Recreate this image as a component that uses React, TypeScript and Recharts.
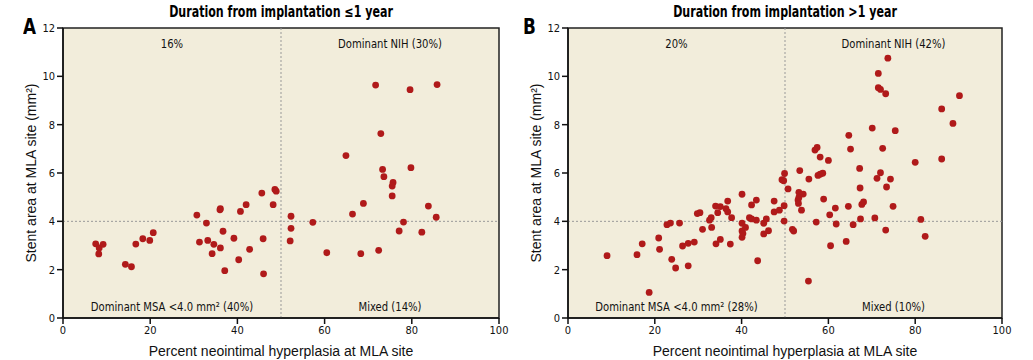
import { ReferenceArea, ReferenceDot, ReferenceLine, Scatter, ScatterChart, XAxis, YAxis } from "recharts";

const xTicks = [0, 20, 40, 60, 80, 100];
const yTicks = [0, 2, 4, 6, 8, 10, 12];

const earlyPoints: [number, number][] = [
  [7.5, 3.07], [8.3, 2.9], [8.2, 2.65], [9.2, 3.05], [14.3, 2.22], [15.7, 2.12], [16.7, 3.06],
  [18.3, 3.28], [19.9, 3.21], [20.7, 3.53], [30.7, 4.26], [31.3, 3.14], [32.9, 3.93], [33.2, 3.21],
  [34.6, 3.05], [34.2, 2.66], [36.1, 4.52], [36.0, 4.48], [36.7, 3.59], [36.1, 2.9], [37.1, 1.96],
  [39.2, 3.3], [40.3, 2.41], [40.7, 4.41], [42.0, 4.69], [42.8, 2.84], [45.6, 5.17], [45.9, 3.28],
  [46.0, 1.83], [48.2, 4.69], [48.6, 5.32], [48.9, 5.25], [52.3, 4.21], [52.3, 3.71], [52.1, 3.19],
  [57.3, 3.96], [60.5, 2.7], [64.9, 6.72], [66.4, 4.3], [68.9, 4.74], [68.3, 2.66], [71.7, 9.64],
  [72.4, 2.8], [72.9, 7.63], [73.3, 6.15], [73.6, 5.85], [75.7, 5.61], [75.5, 5.46], [75.5, 5.05],
  [77.1, 3.6], [78.1, 3.97], [79.6, 9.45], [79.8, 6.22], [82.3, 3.55], [83.8, 4.63], [85.6, 4.17],
  [85.8, 9.66],
];

const latePoints: [number, number][] = [
  [9.0, 2.58], [15.9, 2.62], [18.7, 1.06], [17.1, 3.07], [20.9, 3.31], [21.1, 2.84], [22.8, 3.86],
  [23.6, 3.93], [23.9, 2.43], [24.8, 2.07], [25.7, 3.93], [26.4, 2.98], [27.7, 3.09], [27.7, 2.16],
  [29.1, 3.14], [29.8, 4.32], [30.4, 4.36], [31.0, 3.67], [32.6, 4.05], [33.0, 4.15], [33.1, 3.75],
  [34.0, 4.63], [34.1, 3.07], [34.5, 4.36], [35.1, 4.61], [35.1, 3.25], [36.4, 4.52], [36.8, 4.84],
  [36.8, 4.39], [37.4, 3.06], [37.7, 4.15], [40.1, 5.12], [40.1, 3.92], [40.1, 3.6], [40.1, 3.34],
  [40.9, 3.75], [40.3, 3.5], [41.8, 4.15], [42.3, 4.1], [42.3, 4.68], [43.4, 4.88], [43.4, 4.05],
  [43.7, 2.37], [45.1, 3.92], [45.1, 3.48], [45.7, 4.1], [46.2, 3.61], [47.5, 4.84], [47.5, 4.39],
  [49.3, 5.72], [49.7, 5.68], [49.9, 5.98], [48.7, 4.46], [49.8, 4.65], [49.8, 4.01],
  [50.7, 5.34], [51.7, 3.67], [52.0, 3.6], [53.2, 5.2], [54.2, 5.13], [53.0, 4.88], [53.2, 4.99],
  [53.1, 4.74], [53.8, 4.46], [53.4, 6.1], [55.5, 5.75], [55.4, 1.53], [56.9, 6.95], [57.4, 7.06],
  [58.1, 6.66], [57.6, 5.9], [58.1, 5.95], [58.7, 5.99], [58.9, 4.92], [57.2, 3.97], [60.0, 6.52],
  [60.3, 4.27], [60.5, 2.99], [61.6, 4.55], [61.8, 3.89], [64.7, 7.56], [65.1, 6.99], [64.6, 4.62],
  [65.7, 3.86], [64.1, 3.17], [67.2, 6.19], [67.3, 5.38], [67.7, 4.7], [68.1, 4.8], [67.4, 4.1],
  [70.1, 7.86], [71.5, 10.12], [71.5, 9.53], [72.0, 9.46], [73.2, 9.28], [73.7, 10.75], [72.5, 7.02],
  [72.0, 6.01], [71.2, 5.78], [70.7, 4.14], [74.3, 5.75], [73.4, 5.42], [74.9, 4.62], [73.2, 3.64],
  [75.4, 7.75], [80.0, 6.44], [81.3, 4.08], [82.3, 3.38], [86.1, 8.65], [86.1, 6.58], [88.7, 8.05],
  [90.2, 9.2],
];

// top-left, top-right, bottom-left, bottom-right
const earlyLabels = ["16%", "Dominant NIH (30%)", "Dominant MSA <4.0 mm² (40%)", "Mixed (14%)"];
const lateLabels = ["20%", "Dominant NIH (42%)", "Dominant MSA <4.0 mm² (28%)", "Mixed (10%)"];

const narrow = "'DejaVu Sans Condensed', sans-serif";
const sans = "'Liberation Sans', Arial, sans-serif";
const dotColor = "#b01a1a";

type PanelProps = {
  letter: string;
  title: string;
  points: [number, number][];
  labels: string[];
  left: number;
  width: number;
  yAxisWidth: number;
  rightMargin: number;
  yLabelDx: number;
  letterLeft: number;
};

function quadLabel(text: string) {
  return (props: any) => {
    const vb = props.viewBox || {};
    const cx = (vb.x ?? 0) + (vb.width ?? 0) / 2;
    const cy = (vb.y ?? 0) + (vb.height ?? 0) / 2;
    return (
      <text
        transform={`translate(${cx},${cy}) scale(0.86,1)`}
        textAnchor="middle"
        dominantBaseline="central"
        fill="#111"
        fontSize={13}
        fontFamily={narrow}
      >
        {text}
      </text>
    );
  };
}

function Panel({ letter, title, points, labels, left, width, yAxisWidth, rightMargin, yLabelDx, letterLeft }: PanelProps) {
  const data = points.map(([x, y]) => ({ x, y }));
  const plotLeft = left + yAxisWidth;
  const plotWidth = width - yAxisWidth - rightMargin;
  const spots = [
    { x: 25, y: 11.33 },
    { x: 75, y: 11.33 },
    { x: 25, y: 0.45 },
    { x: 75, y: 0.45 },
  ];
  return (
    <>
      <div
        style={{
          position: "absolute",
          left: plotLeft,
          width: plotWidth,
          top: 3,
          textAlign: "center",
          fontFamily: narrow,
          fontWeight: "bold",
          fontSize: 15,
          transform: "scaleX(0.82)",
          whiteSpace: "nowrap",
        }}
      >
        {title}
      </div>
      <div
        style={{
          position: "absolute",
          left: letterLeft,
          top: 14,
          fontFamily: narrow,
          fontWeight: "bold",
          fontSize: 22,
          transform: "scaleX(0.85)",
          transformOrigin: "left top",
        }}
      >
        {letter}
      </div>
      <div style={{ position: "absolute", left, top: 0 }}>
        <ScatterChart width={width} height={360} margin={{ top: 28, right: rightMargin, bottom: 0, left: 0 }}>
          <ReferenceArea
            x1={0}
            x2={100}
            y1={0}
            y2={12}
            fill="#f2eddb"
            fillOpacity={1}
            stroke="#222"
            strokeWidth={1.5}
          />
          <ReferenceLine x={50} stroke="#999" strokeDasharray="2 2" />
          <ReferenceLine y={4} stroke="#999" strokeDasharray="2 2" />
          <XAxis
            type="number"
            dataKey="x"
            domain={[0, 100]}
            ticks={xTicks}
            height={42}
            tickSize={6}
            stroke="#111"
            strokeWidth={1.5}
            tick={{ fill: "#111", fontSize: 11, fontFamily: narrow }}
            label={{
              value: "Percent neointimal hyperplasia at MLA site",
              position: "insideBottom",
              offset: 4,
              fill: "#111",
              fontSize: 14,
              fontFamily: sans,
            }}
          />
          <YAxis
            type="number"
            dataKey="y"
            domain={[0, 12]}
            ticks={yTicks}
            width={yAxisWidth}
            tickSize={6}
            stroke="#111"
            strokeWidth={1.5}
            tick={{ fill: "#111", fontSize: 11, fontFamily: narrow }}
            label={{
              value: "Stent area at MLA site (mm²)",
              angle: -90,
              position: "center",
              dx: yLabelDx,
              fill: "#111",
              fontSize: 14,
              fontFamily: sans,
            }}
          />
          {labels.map((text, i) => (
            <ReferenceDot
              key={text}
              x={spots[i].x}
              y={spots[i].y}
              r={0}
              fill="none"
              stroke="none"
              label={{ content: quadLabel(text) }}
            />
          ))}
          <Scatter
            data={data}
            isAnimationActive={false}
            shape={(p: any) => <circle cx={p.cx} cy={p.cy} r={3.4} fill={dotColor} />}
          />
        </ScatterChart>
      </div>
    </>
  );
}

export default function App() {
  return (
    <div style={{ position: "absolute", left: 0, top: 0, width: 1033, height: 360, background: "#fff" }}>
      <Panel
        letter="A"
        title="Duration from implantation ≤1 year"
        points={earlyPoints}
        labels={earlyLabels}
        left={0}
        width={516}
        yAxisWidth={63}
        rightMargin={17}
        yLabelDx={0}
        letterLeft={23}
      />
      <Panel
        letter="B"
        title="Duration from implantation >1 year"
        points={latePoints}
        labels={lateLabels}
        left={516}
        width={517}
        yAxisWidth={52}
        rightMargin={31}
        yLabelDx={-6}
        letterLeft={523}
      />
    </div>
  );
}
